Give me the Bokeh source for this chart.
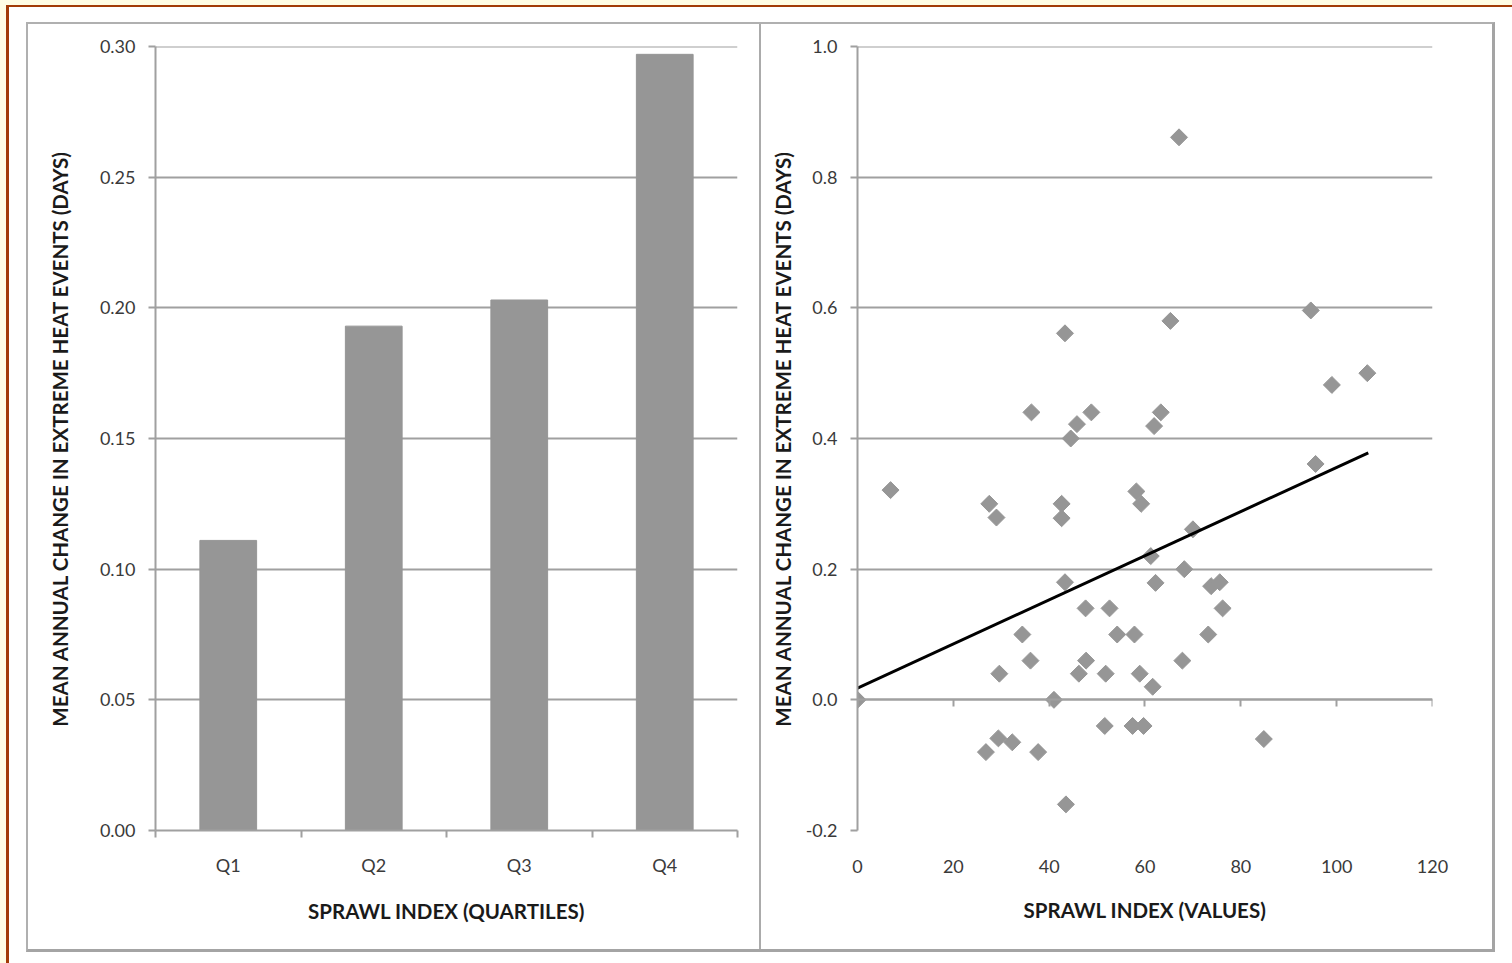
import math
from bokeh.plotting import figure
from bokeh.layouts import row, column
from bokeh.models import (Range1d, FixedTicker, SingleIntervalTicker,
                          NumeralTickFormatter, LinearAxis, Spacer)
from bokeh.embed import file_html
from bokeh.resources import INLINE

# ---------------- data ----------------
categories = ["Q1", "Q2", "Q3", "Q4"]
quartile_means = [0.111, 0.193, 0.203, 0.297]

sprawl_values = [0.0, 6.9, 27.5, 29.0, 36.3, 43.3, 42.6, 42.6, 45.8, 44.5,
                 48.8, 65.3, 67.1, 63.3, 61.9, 58.2, 59.2, 94.6, 99.0, 106.4,
                 95.6, 70.0, 61.2, 68.2, 62.2, 43.3, 47.6, 52.6, 34.4, 54.2,
                 57.8, 36.1, 47.7, 46.2, 29.6, 51.8, 58.9, 61.6, 41.0, 73.8,
                 75.6, 76.2, 73.2, 67.8, 84.8, 51.6, 57.4, 59.7, 29.4, 32.3,
                 26.8, 37.7, 43.5]
heat_change = [0.0, 0.321, 0.30, 0.279, 0.44, 0.561, 0.30, 0.278, 0.422, 0.40,
               0.44, 0.58, 0.861, 0.44, 0.419, 0.319, 0.30, 0.596, 0.482, 0.50,
               0.361, 0.261, 0.22, 0.20, 0.179, 0.18, 0.14, 0.14, 0.10, 0.10,
               0.10, 0.06, 0.06, 0.04, 0.04, 0.04, 0.04, 0.02, 0.0, 0.174,
               0.18, 0.14, 0.10, 0.06, -0.06, -0.04, -0.04, -0.04, -0.059, -0.065,
               -0.08, -0.08, -0.16]
trend_x = [0.0, 106.6]
trend_y = [0.018, 0.378]

y_title = "MEAN ANNUAL CHANGE IN EXTREME HEAT EVENTS (DAYS)"
x_title_left = "SPRAWL INDEX (QUARTILES)"
x_title_right = "SPRAWL INDEX (VALUES)"

# ---------------- style ----------------
FONT = "Lato"
GRID = "#a0a0a0"
BAR = "#969696"
TICK_TXT = "#3a3a3a"
TITLE_TXT = "#1a1a1a"
TICK_FS = "18px"
TITLE_FS = "20.5px"


def style_axis(ax):
    ax.axis_line_color = GRID
    ax.axis_line_width = 2
    ax.major_tick_line_color = GRID
    ax.major_tick_line_width = 2
    ax.major_label_text_font = FONT
    ax.major_label_text_font_size = TICK_FS
    ax.major_label_text_color = TICK_TXT
    ax.axis_label_text_font = FONT
    ax.axis_label_text_font_size = TITLE_FS
    ax.axis_label_text_font_style = "bold"
    ax.axis_label_text_color = TITLE_TXT


# ---------------- left: bar chart ----------------
p1 = figure(width=731, height=925, x_range=Range1d(0, len(categories)),
            y_range=Range1d(0, 0.300001), output_backend="svg",
            toolbar_location=None, min_border_left=127, min_border_right=22,
            min_border_top=22, min_border_bottom=119)
p1.outline_line_color = None
p1.background_fill_color = "white"
p1.border_fill_color = "white"

centers = [i + 0.5 for i in range(len(categories))]
p1.vbar(x=centers, top=quartile_means, width=0.39, color=BAR)

style_axis(p1.xaxis[0])
style_axis(p1.yaxis[0])
p1.xaxis.ticker = FixedTicker(ticks=centers,
                              minor_ticks=list(range(len(categories) + 1)))
p1.xaxis.major_label_overrides = {c: lab for c, lab in zip(centers, categories)}
p1.xaxis.major_tick_line_color = None
p1.xaxis.major_tick_out = 0
p1.xaxis.major_tick_in = 0
p1.xaxis.minor_tick_line_color = GRID
p1.xaxis.minor_tick_line_width = 2
p1.xaxis.minor_tick_out = 7
p1.xaxis.minor_tick_in = 0
p1.xaxis.major_label_standoff = 16
p1.xaxis.axis_label = x_title_left
p1.xaxis.axis_label_standoff = 20

p1.yaxis.ticker = SingleIntervalTicker(interval=0.05, num_minor_ticks=0)
p1.yaxis.formatter = NumeralTickFormatter(format="0.00")
p1.yaxis.major_tick_out = 7
p1.yaxis.major_tick_in = 0
p1.yaxis.minor_tick_line_color = None
p1.yaxis.major_label_standoff = 13
p1.yaxis.axis_label = y_title
p1.yaxis.axis_label_standoff = 25

p1.xgrid.grid_line_color = None
p1.ygrid.grid_line_color = GRID
p1.ygrid.grid_line_width = 2

# ---------------- right: scatter ----------------
p2 = figure(width=731, height=925, x_range=Range1d(0, 120.0001),
            y_range=Range1d(-0.2, 1.000001), output_backend="svg",
            toolbar_location=None, min_border_left=96, min_border_right=60,
            min_border_top=22, min_border_bottom=118)
p2.outline_line_color = None
p2.background_fill_color = "white"
p2.border_fill_color = "white"

style_axis(p2.xaxis[0])
style_axis(p2.yaxis[0])
p2.xaxis.ticker = SingleIntervalTicker(interval=20, num_minor_ticks=0)
p2.xaxis.axis_line_color = None
p2.xaxis.major_tick_line_color = None
p2.xaxis.major_tick_out = 0
p2.xaxis.major_tick_in = 0
p2.xaxis.minor_tick_line_color = None
p2.xaxis.major_label_standoff = 29
p2.xaxis.axis_label = x_title_right
p2.xaxis.axis_label_standoff = 22

p2.yaxis.ticker = SingleIntervalTicker(interval=0.2, num_minor_ticks=0)
p2.yaxis.formatter = NumeralTickFormatter(format="0.0")
p2.yaxis.major_tick_out = 7
p2.yaxis.major_tick_in = 0
p2.yaxis.minor_tick_line_color = None
p2.yaxis.major_label_standoff = 13
p2.yaxis.axis_label = y_title
p2.yaxis.axis_label_standoff = 8

p2.xgrid.grid_line_color = None
p2.ygrid.grid_line_color = GRID
p2.ygrid.grid_line_width = 2

# horizontal axis crossing at y = 0 (line + tick marks only)
zero_axis = LinearAxis(fixed_location=0,
                       ticker=SingleIntervalTicker(interval=20, num_minor_ticks=0),
                       axis_line_color=GRID, axis_line_width=2,
                       major_tick_line_color=GRID, major_tick_line_width=2,
                       major_tick_out=7, major_tick_in=0,
                       minor_tick_line_color=None,
                       major_label_text_font_size="1px",
                       major_label_text_color=None,
                       major_label_standoff=0)
p2.add_layout(zero_axis, "below")

p2.scatter(sprawl_values, heat_change, marker="square", angle=math.pi / 4,
           size=12, color=BAR)
p2.line(trend_x, trend_y, color="black", line_width=3)

# ---------------- page frame ----------------
sep = Spacer(width=2, height=925, styles={"background-color": "#ababab"})
box = row(p1, sep, p2, styles={
    "border-left": "2px solid #b0b0b0",
    "border-top": "2px solid #b0b0b0",
    "border-right": "3px solid #a4a4a4",
    "border-bottom": "3px solid #a4a4a4",
})
white = column(box, styles={
    "background-color": "white",
    "border-top": "2px solid #a23b07",
    "border-left": "3px solid #a23b07",
    "padding-top": "15px",
    "padding-left": "17px",
    "padding-right": "17px",
    "padding-bottom": "11px",
})
page = column(white, styles={
    "background-color": "#fffde4",
    "padding-top": "5px",
    "padding-left": "6px",
})

open("out.html", "w").write(file_html(page, INLINE))
